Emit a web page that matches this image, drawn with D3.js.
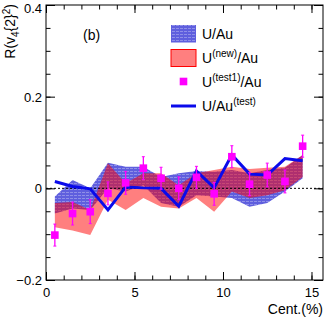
<!DOCTYPE html>
<html>
<head>
<meta charset="utf-8">
<script src="https://cdn.jsdelivr.net/npm/d3@7"></script>
<style>
  body { margin: 0; background: #fff; }
  svg { display: block; font-family: "Liberation Sans", Arial, sans-serif; }
</style>
</head>
<body>
<svg id="chart" width="332" height="319"></svg>
<script>
// centrality bin centres
const cent = [0.5, 1.5, 2.5, 3.5, 4.5, 5.5, 6.5, 7.5, 8.5, 9.5, 10.5, 11.5, 12.5, 13.5, 14.5];

// U/Au band (blue, hatched)
const uAuHi = [-0.018, 0.018, 0.0, 0.056, 0.047, 0.047, 0.025, 0.033, 0.038, 0.036, 0.040, 0.033, 0.040, 0.045, 0.073];
const uAuLo = [-0.055, -0.044, -0.047, 0.0, -0.007, 0.007, -0.032, -0.040, -0.015, -0.018, -0.021, -0.040, -0.032, -0.007, 0.022];

// U(new)/Au band (red)
const newHi = [-0.032, -0.030, -0.047, 0.055, 0.011, 0.033, 0.033, 0.007, 0.033, 0.040, 0.047, 0.042, 0.045, 0.047, 0.073];
const newLo = [-0.085, -0.092, -0.102, -0.025, -0.047, -0.021, -0.040, -0.044, -0.021, -0.051, -0.007, -0.021, -0.015, -0.004, 0.025];

// U(test1)/Au points
const test1 = [-0.102, -0.055, -0.051, -0.011, 0.012, 0.044, 0.022, 0.0, 0.024, -0.012, 0.069, 0.009, 0.029, 0.015, 0.092];
const test1Err = [0.024, 0.025, 0.026, 0.025, 0.025, 0.025, 0.024, 0.025, 0.024, 0.025, 0.024, 0.025, 0.026, 0.025, 0.024];

// U/Au(test) line
const testLine = [0.015, 0.004, -0.001, -0.047, 0.003, 0.001, 0.0, -0.039, 0.038, 0.001, 0.073, 0.031, 0.029, 0.065, 0.060];

const xTicks = [0, 5, 10, 15];
const yTicks = [-0.2, 0, 0.2, 0.4];

const margin = {top: 5, right: 9, bottom: 39, left: 46};
const W = 332, H = 319;
const width = W - margin.left - margin.right;
const height = H - margin.top - margin.bottom;

const svg = d3.select("#chart");
const g = svg.append("g").attr("transform", `translate(${margin.left},${margin.top})`);

const x = d3.scaleLinear().domain([0, 15.65]).range([0, width]);
const y = d3.scaleLinear().domain([-0.2, 0.4]).range([height, 0]);

// hatch pattern for the U/Au band
const defs = svg.append("defs");
const pat = defs.append("pattern")
    .attr("id", "hatch")
    .attr("patternUnits", "userSpaceOnUse")
    .attr("width", 4).attr("height", 3);
pat.append("rect").attr("width", 4).attr("height", 3).attr("fill", "rgb(95,95,222)");
pat.append("rect").attr("x", 0).attr("y", 1).attr("width", 3).attr("height", 1)
    .attr("fill", "#fff").attr("opacity", 0.3);

const band = (hi, lo) => d3.area()
    .x((d, i) => x(cent[i]))
    .y0((d, i) => y(lo[i]))
    .y1((d, i) => y(hi[i]))(cent);

g.append("path").attr("d", band(uAuHi, uAuLo)).attr("fill", "url(#hatch)");
g.append("path").attr("d", band(newHi, newLo)).attr("fill", "rgba(255,0,0,0.5)");

// zero line
g.append("line")
    .attr("x1", 0).attr("x2", width)
    .attr("y1", y(0)).attr("y2", y(0))
    .attr("stroke", "#000").attr("stroke-width", 1)
    .attr("stroke-dasharray", "2,2");

// test line
g.append("path")
    .datum(testLine)
    .attr("d", d3.line().x((d, i) => x(cent[i])).y(d => y(d)))
    .attr("fill", "none")
    .attr("stroke", "#0a0aeb")
    .attr("stroke-width", 3);

// test1 points with error bars
const pts = g.append("g");
pts.selectAll("line.err")
    .data(test1)
    .join("line")
    .attr("class", "err")
    .attr("x1", (d, i) => x(cent[i])).attr("x2", (d, i) => x(cent[i]))
    .attr("y1", (d, i) => y(d - test1Err[i])).attr("y2", (d, i) => y(d + test1Err[i]))
    .attr("stroke", "#ff00ff").attr("stroke-width", 1.3);
["-", "+"].forEach(s => {
    pts.selectAll("line.cap" + (s === "-" ? "lo" : "hi"))
        .data(test1)
        .join("line")
        .attr("class", "cap" + (s === "-" ? "lo" : "hi"))
        .attr("x1", (d, i) => x(cent[i]) - 1.5).attr("x2", (d, i) => x(cent[i]) + 1.5)
        .attr("y1", (d, i) => y(s === "-" ? d - test1Err[i] : d + test1Err[i]))
        .attr("y2", (d, i) => y(s === "-" ? d - test1Err[i] : d + test1Err[i]))
        .attr("stroke", "#ff00ff").attr("stroke-width", 1);
});
pts.selectAll("rect")
    .data(test1)
    .join("rect")
    .attr("x", (d, i) => x(cent[i]) - 3.8)
    .attr("y", d => y(d) - 3.8)
    .attr("width", 7.6).attr("height", 7.6)
    .attr("fill", "#ff00ff");

// axes, ROOT style: inward ticks on all four sides
const xMinor = d3.range(0, 16);
const yMinor = d3.range(-0.2, 0.401, 0.05);

function tickAxis(axisFn, scale, values, size, fmt) {
    return axisFn(scale).tickValues(values).tickSizeInner(size).tickSizeOuter(0).tickFormat(fmt);
}

const axes = g.append("g");
// bottom
axes.append("g").attr("transform", `translate(0,${height})`)
    .call(tickAxis(d3.axisBottom, x, xMinor, -4.5, ""));
axes.append("g").attr("transform", `translate(0,${height})`)
    .call(tickAxis(d3.axisBottom, x, xTicks, -8, d3.format("d")))
    .call(a => a.selectAll("text").attr("dy", null).attr("y", 17));
// top
axes.append("g")
    .call(tickAxis(d3.axisTop, x, xMinor, -4.5, ""));
axes.append("g")
    .call(tickAxis(d3.axisTop, x, xTicks, -8, ""));
// left
axes.append("g")
    .call(tickAxis(d3.axisLeft, y, yMinor, -4.5, ""));
axes.append("g")
    .call(tickAxis(d3.axisLeft, y, yTicks, -9, d => d === 0 ? "0" : d3.format(".1f")(d).replace("-", "\u2212")))
    .call(a => a.selectAll("text").attr("x", -4).attr("dy", d => d === 0.4 ? "0.55em" : "0.35em"));
// right
axes.append("g").attr("transform", `translate(${width},0)`)
    .call(tickAxis(d3.axisRight, y, yMinor, -4.5, ""));
axes.append("g").attr("transform", `translate(${width},0)`)
    .call(tickAxis(d3.axisRight, y, yTicks, -9, ""));

axes.selectAll(".domain").remove();
axes.selectAll("text").attr("font-size", 13).attr("fill", "#000")
    .attr("font-family", "Liberation Sans, Arial, sans-serif");
axes.selectAll("line").attr("stroke", "#000");

g.append("rect")
    .attr("width", width).attr("height", height)
    .attr("fill", "none").attr("stroke", "#000").attr("stroke-width", 1);

// axis titles
svg.append("text")
    .attr("x", 323).attr("y", 314)
    .attr("text-anchor", "end")
    .attr("font-size", 14)
    .text("Cent.(%)");

const yt = svg.append("text")
    .attr("transform", "translate(15,4) rotate(-90)")
    .attr("text-anchor", "end")
    .attr("font-size", 14);
yt.append("tspan").text("R(v");
yt.append("tspan").attr("font-size", 10).attr("dy", 4).text("4");
yt.append("tspan").attr("dy", -4).text("{2}");
yt.append("tspan").attr("font-size", 10).attr("dy", -5).text("2");
yt.append("tspan").attr("dy", 5).text(")");

svg.append("text")
    .attr("x", 83).attr("y", 40)
    .attr("font-size", 14)
    .text("(b)");

// legend
const leg = svg.append("g");
const lx = 171, lw = 25, tx = 202;

leg.append("rect").attr("x", lx).attr("y", 25).attr("width", lw).attr("height", 17.5)
    .attr("fill", "url(#hatch)");
leg.append("rect").attr("x", lx).attr("y", 49.5).attr("width", lw).attr("height", 17)
    .attr("fill", "rgba(255,0,0,0.5)").attr("stroke", "#ff0000").attr("stroke-width", 1);
leg.append("rect").attr("x", 183.5 - 3.8).attr("y", 81.5 - 3.8).attr("width", 7.6).attr("height", 7.6)
    .attr("fill", "#ff00ff");
leg.append("line").attr("x1", lx).attr("x2", lx + lw).attr("y1", 106).attr("y2", 106)
    .attr("stroke", "#0a0aeb").attr("stroke-width", 3);

const labels = [
    {y: 39, parts: [["U/Au", 0]]},
    {y: 63, parts: [["U", 0], ["(new)", 1], ["/Au", 0]]},
    {y: 87, parts: [["U", 0], ["(test1)", 1], ["/Au", 0]]},
    {y: 111, parts: [["U/Au", 0], ["(test)", 1]]}
];
labels.forEach(l => {
    const t = leg.append("text").attr("x", tx).attr("y", l.y).attr("font-size", 14);
    let prev = 0;
    l.parts.forEach(([s, sup]) => {
        const dy = sup ? -6 : (prev ? 6 : 0);
        t.append("tspan").attr("dy", dy).attr("font-size", sup ? 10 : 14).text(s);
        prev = sup;
    });
});
</script>
</body>
</html>
